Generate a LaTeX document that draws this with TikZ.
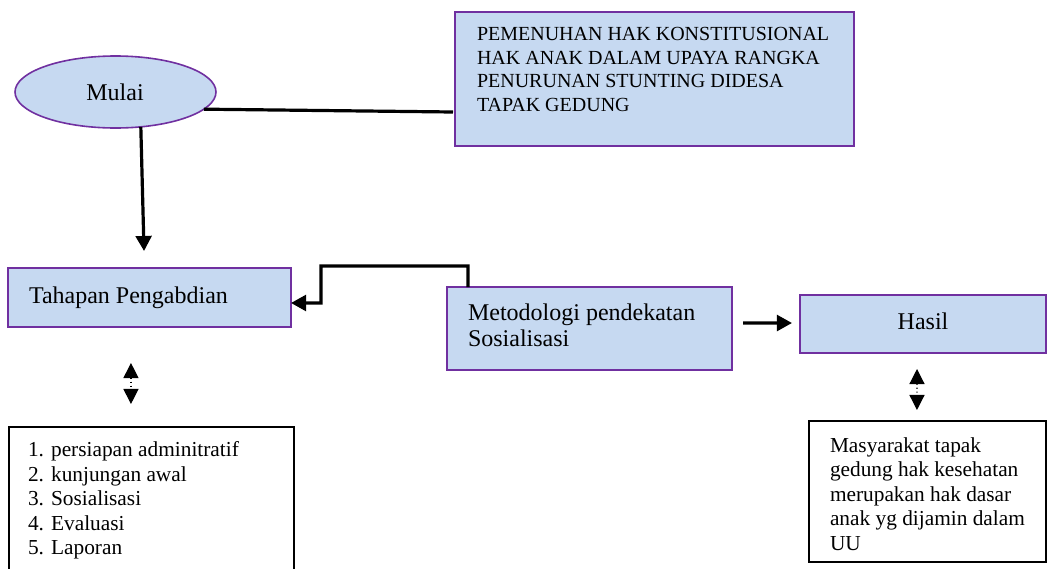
\documentclass[tikz,border=0pt]{standalone}
\usepackage{fontspec}
\setmainfont{Liberation Serif}
\usetikzlibrary{arrows.meta,shapes.geometric,fit}
\definecolor{boxfill}{RGB}{198,217,241}
\definecolor{boxline}{RGB}{112,48,160}
\begin{document}
\begin{tikzpicture}[x=0.75pt,y=-0.75pt,
  bluebox/.style={draw=boxline, fill=boxfill, line width=1.2pt, inner sep=0pt, outer sep=0pt},
  plainbox/.style={draw=black, line width=1.2pt, inner sep=0pt, outer sep=0pt},
  conn/.style={line width=2.4pt, -{Triangle[width=11.8pt,length=11.3pt]}},
  plainconn/.style={line width=2.4pt},
  dbl/.style={line width=0.9pt, dotted, {Triangle[width=11.3pt,length=11.3pt]}-{Triangle[width=11.3pt,length=11.3pt]}},
  lbl/.style={inner sep=0pt, outer sep=0pt, text=black},
]
\useasboundingbox (0,0) rectangle (1048,568);
\clip (0,0) rectangle (1048,568);

% boxes
\node[bluebox, ellipse, minimum width=150.75pt, minimum height=54pt] (mulai) at (115.5,92) {};
\node[bluebox, fit={(455,12)(854,146)}] (title) {};
\node[bluebox, fit={(8,268)(291,327)}] (tah) {};
\node[bluebox, fit={(447,287)(732,370)}] (met) {};
\node[bluebox, fit={(800,295)(1046,353)}] (hasil) {};
\node[plainbox, fit={(9,427)(294,590)}] (list) {};
\node[plainbox, fit={(809,421)(1046,562)}] (mas) {};

% texts
\node[lbl, font=\fontsize{18pt}{21pt}\selectfont, anchor=base] (mulaitxt) at (115,100) {Mulai};
\node[lbl, font=\fontsize{15pt}{17.6pt}\selectfont, anchor=north west, align=left] (titletxt) at (477,27.5)
  {PEMENUHAN HAK KONSTITUSIONAL\\HAK ANAK DALAM UPAYA RANGKA\\PENURUNAN STUNTING DIDESA\\TAPAK GEDUNG};
\node[lbl, font=\fontsize{18pt}{21pt}\selectfont, anchor=base west] (tahtxt) at (29,303) {Tahapan Pengabdian};
\node[lbl, font=\fontsize{18pt}{19.5pt}\selectfont, anchor=north west, align=left] (mettxt) at (468,304.3)
  {Metodologi pendekatan\\Sosialisasi};
\node[lbl, font=\fontsize{18pt}{21pt}\selectfont, anchor=base] (hasiltxt) at (923,329) {Hasil};
\node[lbl, font=\fontsize{16pt}{18.4pt}\selectfont, anchor=north west, align=left] (listtxt) at (28,441.5)
  {1. persiapan adminitratif\\2. kunjungan awal\\3. Sosialisasi\\4. Evaluasi\\5. Laporan};
\node[lbl, font=\fontsize{16pt}{18.4pt}\selectfont, anchor=north west, align=left] (mastxt) at (830,437.5)
  {Masyarakat tapak\\gedung hak kesehatan\\merupakan hak dasar\\anak yg dijamin dalam\\UU};

% connectors
\draw[plainconn] (mulai.-11) -- ([xshift=-1.5pt,yshift=-24.75pt]title.west);
\draw[conn] (mulai.-54) -- ([xshift=-4.1pt,yshift=12.75pt]tah.north);
\draw[conn] ([xshift=15.75pt]met.north west) -- ++(0,-21) -- ++(-147,0) -- ++(0,37) -- ([yshift=-4.1pt]tah.east);
\draw[conn] ([xshift=8.25pt,yshift=4.1pt]met.east) -- ([xshift=-6pt,yshift=0.75pt]hasil.west);
\draw[dbl] ([xshift=-13.9pt,yshift=-27pt]tah.south) -- ([xshift=-15.4pt,yshift=17.25pt]list.north);
\draw[dbl] ([xshift=-4.5pt,yshift=-12pt]hasil.south) -- ([xshift=-7.9pt,yshift=8.25pt]mas.north);
\end{tikzpicture}
\end{document}
